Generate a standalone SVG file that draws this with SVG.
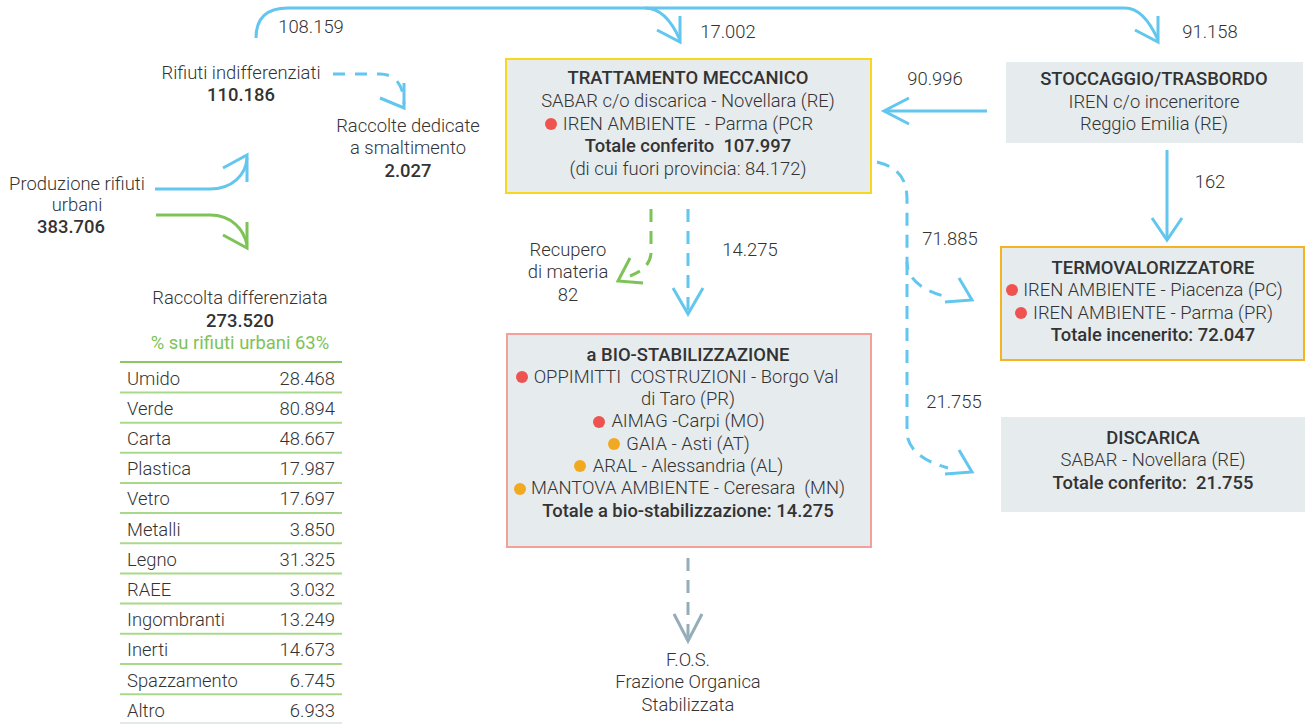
<svg xmlns="http://www.w3.org/2000/svg" width="1305" height="724" viewBox="0 0 1305 724">
<style>
text{font-family:Roboto,"Liberation Sans",sans-serif;font-size:18.4px;font-weight:300;fill:#333;text-anchor:middle;white-space:pre}
.b{font-weight:500}
.l{text-anchor:start}
.r{text-anchor:end}
.g{fill:#7dc358;font-weight:400}
.box{fill:#e6ebee}
.ln{fill:none;stroke:#62c6ef;stroke-width:3}
.dash{stroke-dasharray:13 9}
.gr{fill:none;stroke:#7dc358;stroke-width:3}
.fos{fill:none;stroke:#95adb8;stroke-width:3}
.row{stroke:#a8d98a;stroke-width:2}
.red{fill:#ef5350}
.or{fill:#f2a922}
</style>
<rect width="1305" height="724" fill="#fff"/>
<g id="connectors">
<path class="ln" d="M256,38 Q256,8 288,8 L1125,8 C1140,8 1150,22 1158,40"/>
<path class="ln" d="M1135,30 L1158,42 L1158,16"/>
<path class="ln" d="M645,8 C662,8 673,24 680,40"/>
<path class="ln" d="M657,30 L680,42 L680,16"/>
<path class="ln" d="M155,189 L210,189 C232,189 246,175 247,158"/>
<path class="ln" d="M223,168 L247,155 L247,182"/>
<path class="gr" d="M156,215 L210,215 C232,215 244,230 247,245"/>
<path class="gr" d="M223,235 L247,248 L247,222"/>
<path class="ln dash" d="M333,74 L380,74 C395,74 404,85 404,104" style="stroke-dasharray:12 10"/>
<path class="ln" d="M380,98 L404,108 L404,83"/>
<path class="ln" d="M987,111 L886,111"/>
<path class="ln" d="M909,98 L884,111 L909,124"/>
<path class="ln" d="M1167,150 L1167,238"/>
<path class="ln" d="M1152,218 L1167,240 L1182,218"/>
<path class="ln dash" d="M877,162 C900,168 907,180 907,200 L907,262 C907,280 925,292 948,297"/>
<path class="ln" d="M945,302 L972,300 L959,278"/>
<path class="ln dash" d="M907,262 L907,432 C907,450 925,462 948,468"/>
<path class="ln" d="M945,474 L972,472 L959,450"/>
<path class="gr dash" d="M651,209 L651,252 Q651,268 630,276"/>
<path class="gr" d="M630,258 L618,281 L643,283"/>
<path class="ln dash" d="M688,209 L688,312"/>
<path class="ln" d="M673,288 L688,314 L703,288"/>
<path class="fos dash" d="M688,558 L688,638"/>
<path class="fos" d="M674,614 L688,641 L702,614"/>
</g>
<g id="labels">
<text x="311" y="33">108.159</text>
<text x="728" y="38">17.002</text>
<text x="1210" y="38">91.158</text>
<text x="935" y="85">90.996</text>
<text x="1210" y="188">162</text>
<text x="950" y="245">71.885</text>
<text x="954" y="408">21.755</text>
<text x="750" y="256">14.275</text>
</g>
<g id="produzione">
<text x="77" y="190">Produzione rifiuti</text>
<text x="77" y="211">urbani</text>
<text x="71" y="233" class="b">383.706</text>
</g>
<g id="indifferenziati">
<text x="241" y="79">Rifiuti indifferenziati</text>
<text x="241" y="101" class="b">110.186</text>
</g>
<g id="raccolte-dedicate">
<text x="408" y="132">Raccolte dedicate</text>
<text x="408" y="154">a smaltimento</text>
<text x="408" y="177" class="b">2.027</text>
</g>
<g id="recupero">
<text x="568" y="256">Recupero</text>
<text x="568" y="278">di materia</text>
<text x="568" y="301">82</text>
</g>
<g id="trattamento">
<rect class="box" x="506" y="59" width="365" height="134" stroke="#f9d71c" stroke-width="2"/>
<text x="688" y="84" class="b">TRATTAMENTO MECCANICO</text>
<text x="688" y="107">SABAR c/o discarica - Novellara (RE)</text>
<circle class="red" cx="551" cy="124" r="6"/>
<text x="688" y="130">IREN AMBIENTE  - Parma (PCR</text>
<text x="688" y="152" class="b">Totale conferito  107.997</text>
<text x="688" y="175">(di cui fuori provincia: 84.172)</text>
</g>
<g id="stoccaggio">
<rect class="box" x="1006" y="62" width="297" height="81"/>
<text x="1154" y="85" class="b">STOCCAGGIO/TRASBORDO</text>
<text x="1154" y="108">IREN c/o inceneritore</text>
<text x="1154" y="130">Reggio Emilia (RE)</text>
</g>
<g id="termovalorizzatore">
<rect class="box" x="1001" y="247" width="303" height="113" stroke="#f5b324" stroke-width="2"/>
<text x="1153" y="274" class="b">TERMOVALORIZZATORE</text>
<circle class="red" cx="1012" cy="290" r="6"/>
<text x="1153" y="296">IREN AMBIENTE - Piacenza (PC)</text>
<circle class="red" cx="1021" cy="313" r="6"/>
<text x="1153" y="319">IREN AMBIENTE - Parma (PR)</text>
<text x="1153" y="341" class="b">Totale incenerito: 72.047</text>
</g>
<g id="discarica">
<rect class="box" x="1001" y="417" width="304" height="95"/>
<text x="1153" y="444" class="b">DISCARICA</text>
<text x="1153" y="466">SABAR - Novellara (RE)</text>
<text x="1153" y="489" class="b">Totale conferito:  21.755</text>
</g>
<g id="biostabilizzazione">
<rect class="box" x="507" y="334" width="364" height="213" stroke="#f4a09a" stroke-width="2"/>
<text x="688" y="361" class="b">a BIO-STABILIZZAZIONE</text>
<circle class="red" cx="522" cy="377" r="6"/>
<text x="686" y="383">OPPIMITTI  COSTRUZIONI - Borgo Val</text>
<text x="688" y="405">di Taro (PR)</text>
<circle class="red" cx="599" cy="422" r="6"/>
<text x="688" y="427">AIMAG -Carpi (MO)</text>
<circle class="or" cx="614" cy="444" r="6"/>
<text x="688" y="450">GAIA - Asti (AT)</text>
<circle class="or" cx="580" cy="466" r="6"/>
<text x="688" y="472">ARAL - Alessandria (AL)</text>
<circle class="or" cx="520" cy="489" r="6"/>
<text x="688" y="494">MANTOVA AMBIENTE - Ceresara  (MN)</text>
<text x="688" y="517" class="b">Totale a bio-stabilizzazione: 14.275</text>
</g>
<g id="fos">
<text x="688" y="666">F.O.S.</text>
<text x="688" y="688">Frazione Organica</text>
<text x="688" y="711">Stabilizzata</text>
</g>
<g id="differenziata">
<text x="240" y="304">Raccolta differenziata</text>
<text x="240" y="327" class="b">273.520</text>
<text x="240" y="349" class="g">% su rifiuti urbani 63%</text>
<line x1="120" y1="362" x2="342" y2="362" stroke="#8cc665" stroke-width="2"/>
<line class="row" x1="120" y1="392.5" x2="342" y2="392.5"/>
<line class="row" x1="120" y1="422.7" x2="342" y2="422.7"/>
<line class="row" x1="120" y1="452.8" x2="342" y2="452.8"/>
<line class="row" x1="120" y1="483" x2="342" y2="483"/>
<line class="row" x1="120" y1="513" x2="342" y2="513"/>
<line class="row" x1="120" y1="543.3" x2="342" y2="543.3"/>
<line class="row" x1="120" y1="573.5" x2="342" y2="573.5"/>
<line class="row" x1="120" y1="603.6" x2="342" y2="603.6"/>
<line class="row" x1="120" y1="633.8" x2="342" y2="633.8"/>
<line class="row" x1="120" y1="664" x2="342" y2="664"/>
<line class="row" x1="120" y1="694.2" x2="342" y2="694.2"/>
<line x1="120" y1="723" x2="342" y2="723" stroke="#e3e8ea" stroke-width="2"/>
<text class="l" x="127" y="385">Umido</text><text class="r" x="335" y="385">28.468</text>
<text class="l" x="127" y="415">Verde</text><text class="r" x="335" y="415">80.894</text>
<text class="l" x="127" y="445">Carta</text><text class="r" x="335" y="445">48.667</text>
<text class="l" x="127" y="475">Plastica</text><text class="r" x="335" y="475">17.987</text>
<text class="l" x="127" y="505">Vetro</text><text class="r" x="335" y="505">17.697</text>
<text class="l" x="127" y="536">Metalli</text><text class="r" x="335" y="536">3.850</text>
<text class="l" x="127" y="566">Legno</text><text class="r" x="335" y="566">31.325</text>
<text class="l" x="127" y="596">RAEE</text><text class="r" x="335" y="596">3.032</text>
<text class="l" x="127" y="626">Ingombranti</text><text class="r" x="335" y="626">13.249</text>
<text class="l" x="127" y="656">Inerti</text><text class="r" x="335" y="656">14.673</text>
<text class="l" x="127" y="687">Spazzamento</text><text class="r" x="335" y="687">6.745</text>
<text class="l" x="127" y="717">Altro</text><text class="r" x="335" y="717">6.933</text>
</g>
</svg>
